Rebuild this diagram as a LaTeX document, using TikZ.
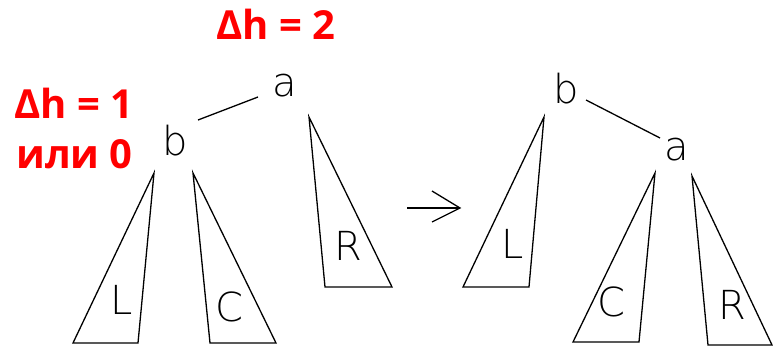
\documentclass[tikz,border=0pt]{standalone}
\usepackage{fontspec}
\newfontfamily\redfont{Open Sans}
\newfontfamily\thinfont{DejaVu Sans ExtraLight}
\begin{document}
\begin{tikzpicture}[x=1pt,y=-1pt,
  lbl/.style={font=\thinfont\fontsize{40}{40}\selectfont, inner sep=0pt, anchor=center},
  red/.style={font=\redfont\bfseries\fontsize{40}{40}\selectfont, text=red, inner sep=0pt},
  tri/.style={draw=black, line width=1.3pt, line join=miter},
  edge/.style={draw=black, line width=1.3pt}]
\useasboundingbox (0,0) rectangle (773,348);
% red annotations
\node[red, anchor=base] (dh2) at (276,39) {Δh = 2};
\node[red, anchor=base west] (dh1) at (14,118) {Δh = 1};
\node[red, anchor=base west] (ili) at (16,168) {или 0};
% left tree
\node[lbl] (a) at (285,86) {a};
\node[lbl] (b) at (175,141) {b};
\coordinate (b1) at (198,120);
\coordinate (a1) at (258,97);
\draw[edge] (b1) -- (a1);
\draw[tri] (154,173) -- (73,343) -- (138,343) -- cycle;
\draw[tri] (193,173) -- (210,343) -- (276,343) -- cycle;
\draw[tri] (309,117) -- (325,287) -- (392,287) -- cycle;
\node[lbl] (L) at (122,300) {L};
\node[lbl] (C) at (229,307) {C};
\node[lbl] (R) at (348,246) {R};
% arrow
\coordinate (ar0) at (407,208);
\coordinate (ar1) at (460,208);
\coordinate (ar2) at (432,191);
\coordinate (ar3) at (432,222);
\draw[edge] (ar0) -- (ar1);
\draw[edge] (ar2) -- (ar1) -- (ar3);
% right tree
\node[lbl] (b2) at (566,89) {b};
\node[lbl] (a2) at (677,150) {a};
\coordinate (b2e) at (586,100);
\coordinate (a2e) at (660,138);
\draw[edge] (b2e) -- (a2e);
\draw[tri] (544,117) -- (463,287) -- (529,287) -- cycle;
\draw[tri] (655,173) -- (573,342) -- (639,342) -- cycle;
\draw[tri] (692,176) -- (708,345) -- (772,345) -- cycle;
\node[lbl] (L2) at (513,244) {L};
\node[lbl] (C2) at (611,302) {C};
\node[lbl] (R2) at (732,305) {R};
\end{tikzpicture}
\end{document}
